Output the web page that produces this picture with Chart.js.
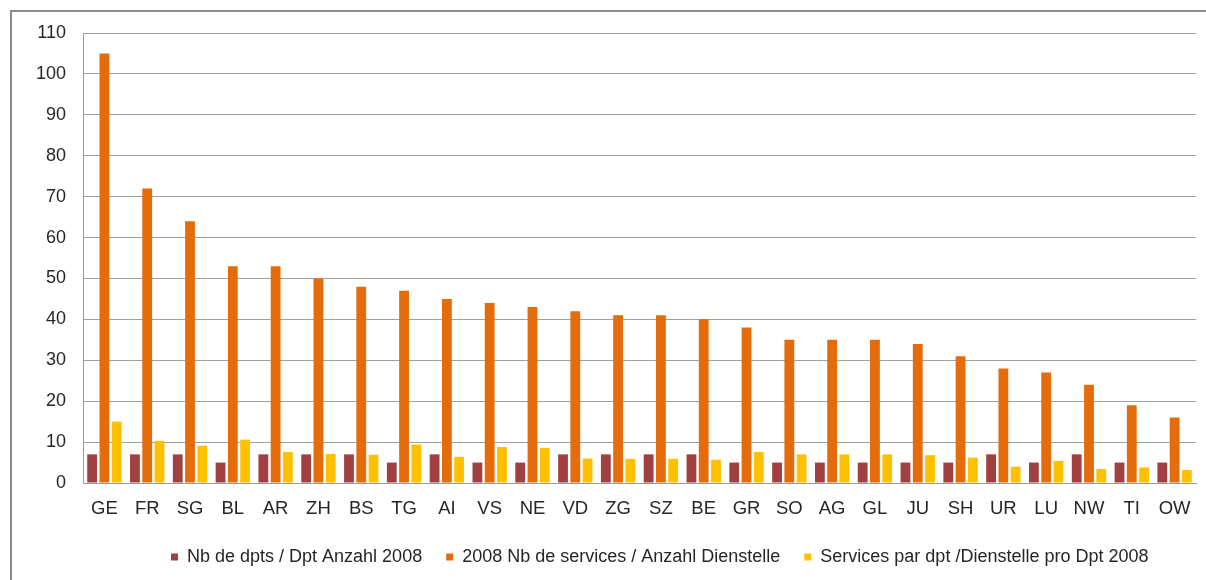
<!DOCTYPE html>
<html>
<head>
<meta charset="utf-8">
<script src="https://cdn.jsdelivr.net/npm/chart.js@4/dist/chart.umd.min.js"></script>
<style>
  html, body { margin: 0; padding: 0; background: #ffffff; }
  #wrap { position: relative; width: 1206px; height: 580px; overflow: hidden; }
  #frame { position: absolute; left: 10px; top: 10px; width: 1300px; height: 700px;
           border-top: 2px solid #8c8c8c; border-left: 2px solid #8c8c8c; box-sizing: border-box; }
  #c { position: absolute; left: 0; top: 0; }
</style>
</head>
<body>
<div id="wrap">
  <div id="frame"></div>
  <canvas id="c" width="1206" height="580"></canvas>
</div>
<script>
const categories = ["GE","FR","SG","BL","AR","ZH","BS","TG","AI","VS","NE","VD","ZG","SZ","BE","GR","SO","AG","GL","JU","SH","UR","LU","NW","TI","OW"];
const seriesNames = ["Nb de dpts / Dpt Anzahl 2008", "2008 Nb de services / Anzahl Dienstelle", "Services par dpt /Dienstelle pro Dpt 2008"];
const departments = [7,7,7,5,7,7,7,5,7,5,5,7,7,7,7,5,5,5,5,5,5,7,5,7,5,5];
const services = [105,72,64,53,53,50,48,47,45,44,43,42,41,41,40,38,35,35,35,34,31,28,27,24,19,16];
const servicesPerDept = [15,10.3,9.1,10.6,7.6,7.1,6.9,9.4,6.4,8.8,8.6,6,5.9,5.9,5.7,7.6,7,7,7,6.8,6.2,4,5.4,3.4,3.8,3.2];
const yTicks = [0,10,20,30,40,50,60,70,80,90,100,110];

const colors = ["#A04040", "#E46C0A", "#FFC000"];

const legendFit = {
  id: 'legendFit',
  beforeInit(chart) {
    const orig = chart.legend.fit;
    chart.legend.fit = function () {
      orig.bind(chart.legend)();
      this.height = 56;
    };
  },
  afterLayout(chart) {
    const lg = chart.legend;
    const shift = 147 - lg.left;
    lg.left += shift;
    lg.right += shift;
  }
};

new Chart(document.getElementById('c'), {
  type: 'bar',
  data: {
    labels: categories,
    datasets: [
      { label: seriesNames[0], data: departments, backgroundColor: colors[0] },
      { label: seriesNames[1], data: services, backgroundColor: colors[1] },
      { label: seriesNames[2], data: servicesPerDept, backgroundColor: colors[2] }
    ]
  },
  options: {
    responsive: false,
    animation: false,
    devicePixelRatio: 1,
    layout: { padding: { left: 0, right: 10, top: 33, bottom: 0 } },
    datasets: { bar: { categoryPercentage: 0.86, barPercentage: 0.8 } },
    scales: {
      x: {
        grid: { display: false, drawTicks: false },
        border: { display: true, color: '#9a9a9a', width: 1 },
        ticks: { font: { family: 'Liberation Sans', size: 18.5 }, color: '#262626', padding: 15, maxRotation: 0, autoSkip: false },
        afterFit(scale) { scale.height = 41; }
      },
      y: {
        min: 0, max: 110,
        afterBuildTicks(scale) { scale.ticks = yTicks.map(v => ({ value: v })); },
        grid: { color: '#a0a0a0', lineWidth: 1, drawTicks: false },
        border: { display: true, color: '#9a9a9a', width: 1 },
        ticks: { font: { family: 'Liberation Sans', size: 18 }, color: '#262626', padding: 17 },
        afterFit(scale) { scale.width = 83; }
      }
    },
    plugins: {
      legend: {
        position: 'bottom',
        align: 'start',
        labels: {
          font: { family: 'Liberation Sans', size: 18 },
          color: '#262626',
          boxWidth: 7, boxHeight: 7,
          padding: 24
        }
      },
      tooltip: { enabled: false }
    }
  },
  plugins: [legendFit]
});
</script>
</body>
</html>
